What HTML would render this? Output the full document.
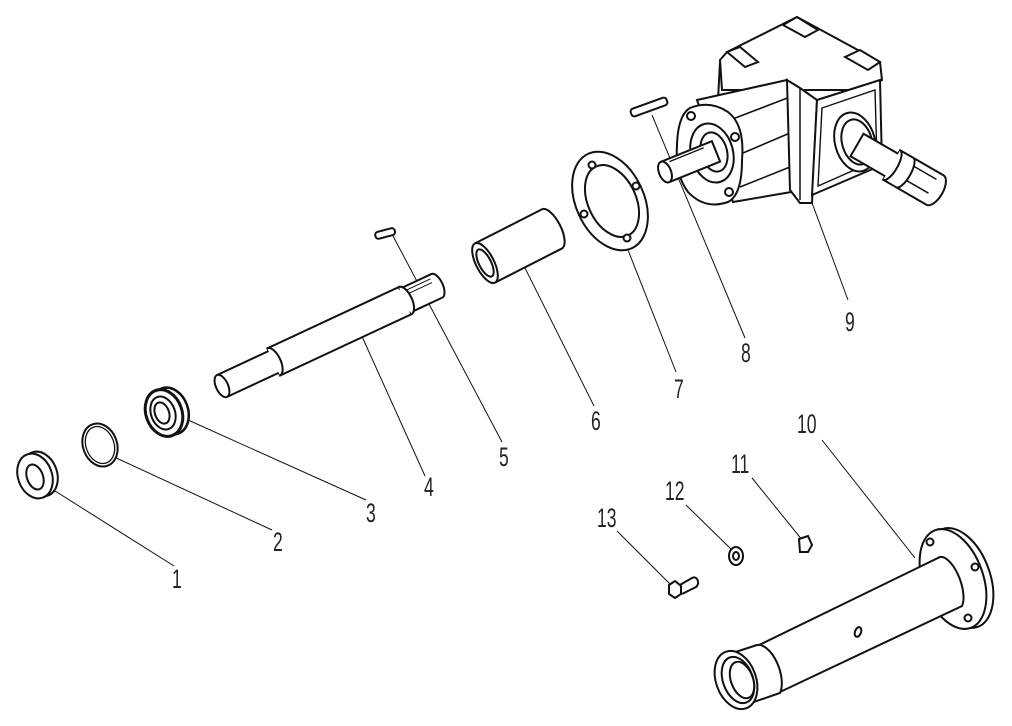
<!DOCTYPE html>
<html><head><meta charset="utf-8"><style>
html,body{margin:0;padding:0;background:#fff}
svg{display:block}
text{font-family:"Liberation Sans",sans-serif;font-size:27px;fill:#222}
</style></head><body>
<svg width="1012" height="726" viewBox="0 0 1012 726" xmlns="http://www.w3.org/2000/svg">
<g fill="none" stroke="#111" stroke-width="1">
<line x1="44" y1="484" x2="174" y2="566"/>
<line x1="112" y1="456" x2="272" y2="530"/>
<line x1="188" y1="420" x2="366" y2="500"/>
<line x1="360" y1="332" x2="425" y2="476"/>
<line x1="393" y1="236" x2="502" y2="442"/>
<line x1="525" y1="268" x2="594" y2="406"/>
<line x1="628" y1="250" x2="676" y2="372"/>
<line x1="652" y1="115" x2="745" y2="338"/>
<line x1="788" y1="138" x2="848" y2="300"/>
<line x1="915" y1="558" x2="822" y2="440"/>
<line x1="803" y1="541" x2="752" y2="478"/>
<line x1="733" y1="551" x2="686" y2="505"/>
<line x1="670" y1="584" x2="617" y2="531"/>
</g>
<g fill="#fff" stroke="#111" stroke-width="2">
<ellipse cx="40" cy="474" rx="17" ry="23" transform="rotate(-20 40 474)"/>
<ellipse cx="35" cy="476" rx="17" ry="23" transform="rotate(-20 35 476)"/>
<ellipse cx="35" cy="477" rx="8" ry="13" transform="rotate(-20 35 477)"/>
<ellipse cx="100" cy="445" rx="17" ry="22" transform="rotate(-20 100 445)"/>
<ellipse cx="100" cy="445" rx="14" ry="19" transform="rotate(-20 100 445)" stroke-width="1.3"/>
<ellipse cx="170" cy="411" rx="18" ry="24" transform="rotate(-20 170 411)" stroke-width="2.5"/>
<ellipse cx="164" cy="413" rx="18" ry="24" transform="rotate(-20 164 413)" stroke-width="3"/>
<ellipse cx="163" cy="413" rx="12" ry="17" transform="rotate(-20 163 413)"/>
<ellipse cx="162" cy="413" rx="7" ry="11" transform="rotate(-20 162 413)"/>
<g transform="translate(222,386) rotate(-25)">
<path d="M0,-12 L57,-12 L57,-15 L202,-15 L202,-13 L237,-13 A6,13 0 0 1 237,13 L202,13 L202,15 L57,15 L57,12 L0,12"/>
<path d="M57,-15 A7,15 0 0 1 57,15" />
<path d="M202,-15 A7,15 0 0 1 202,15" />
<line x1="208" y1="-9" x2="234" y2="-9" stroke-width="1"/>
<line x1="208" y1="-5" x2="234" y2="-5" stroke-width="1"/>
<ellipse cx="0" cy="0" rx="6" ry="12"/>
</g>
<rect x="375" y="230" width="20" height="7" rx="3" transform="rotate(-15 385 233)"/>
<g transform="translate(485,263) rotate(-27)">
<path d="M0,-22 L75,-22 A9,22 0 0 1 75,22 L0,22"/>
<ellipse cx="0" cy="0" rx="9" ry="22"/>
<ellipse cx="0" cy="0" rx="6" ry="15"/>
</g>
<ellipse cx="610" cy="201" rx="34" ry="52" transform="rotate(-25 610 201)"/>
<ellipse cx="612" cy="201" rx="24" ry="38" transform="rotate(-25 612 201)"/>
<circle cx="592" cy="165" r="3.5"/><circle cx="636" cy="186" r="3.5"/><circle cx="584" cy="214" r="3.5"/><circle cx="627" cy="238" r="3.5"/>
<rect x="630" y="103" width="38" height="8" rx="3" transform="rotate(-20 649 107)"/>
<path d="M720,60 L727,52 L797,17 L880,62 L882,80 L860,90 L790,90 L722,90 Z"/>
<path d="M727,52 L740,47 L758,62 L745,67 Z M783,25 L797,17 L818,30 L805,37 Z M845,57 L860,50 L880,62 L868,70 Z"/>
<line x1="720" y1="62" x2="718" y2="100"/>
<path d="M697,100 L787,80 L803,190 L733,202 Z"/>
<line x1="730" y1="120" x2="790" y2="97" stroke-width="1.6"/>
<line x1="743" y1="153" x2="797" y2="130" stroke-width="1.6"/>
<line x1="740" y1="187" x2="800" y2="163" stroke-width="1.6"/>
<path d="M787,80 L800,88 L817,100 L812,203 L800,203 L790,190 Z"/>
<line x1="800" y1="88" x2="800" y2="200" stroke-width="1.5"/>
<path d="M817,100 L880,80 L882,165 L812,195 Z"/>
<path d="M822,108 L875,90 L877,160 L818,186 Z" stroke-width="1.4"/>
<ellipse cx="855" cy="142" rx="20" ry="30" transform="rotate(-15 855 142)"/>
<ellipse cx="857" cy="142" rx="15" ry="23" transform="rotate(-15 857 142)"/>
<g transform="translate(857,145) rotate(30)">
<path d="M0,-13 L40,-13 L40,-17 L90,-17 A8,17 0 0 1 90,17 L40,17 L40,13 L0,13 Z"/>
<path d="M40,-17 A6,17 0 0 1 40,17"/>
<path d="M55,-17 A6,17 0 0 1 55,17"/>
<line x1="60" y1="-10" x2="86" y2="-10" stroke-width="1.5"/>
<line x1="60" y1="6" x2="86" y2="6" stroke-width="1.5"/>
</g>
<path d="M690,108 Q710,100 728,112 Q745,125 742,160 Q742,195 728,202 Q705,210 688,192 Q675,175 677,145 Q678,115 690,108 Z"/>
<ellipse cx="712" cy="153" rx="21" ry="30" transform="rotate(-15 712 153)"/>
<ellipse cx="714" cy="152" rx="13" ry="20" transform="rotate(-15 714 152)"/>
<circle cx="691" cy="116" r="4"/><circle cx="735" cy="137" r="4"/><circle cx="729" cy="192" r="4"/>
<g transform="translate(665,172) rotate(-22)">
<path d="M0,-11 L55,-11 L55,11 L0,11"/><ellipse cx="0" cy="0" rx="6" ry="11"/>
<line x1="8" y1="-8" x2="45" y2="-8" stroke-width="1.3"/>
</g>
<ellipse cx="960" cy="578" rx="30" ry="52" transform="rotate(-20 960 578)"/>
<ellipse cx="953" cy="579" rx="30" ry="52" transform="rotate(-20 953 579)"/>
<circle cx="930" cy="542" r="3.5"/><circle cx="975" cy="567" r="3.5"/><circle cx="968" cy="618" r="3.5"/>
<path d="M755,647 L940,557 A12,28 -20 0 1 962,606 L780,692 Z"/>
<path d="M720,657 L757,645 A14,28 -20 0 1 780,693 L745,705 Z"/>
<ellipse cx="736" cy="680" rx="20" ry="30" transform="rotate(-20 736 680)"/>
<ellipse cx="738" cy="680" rx="15" ry="24" transform="rotate(-20 738 680)"/>
<ellipse cx="742" cy="680" rx="11" ry="19" transform="rotate(-20 742 680)"/>
<ellipse cx="858" cy="632" rx="3" ry="5" transform="rotate(20 858 632)"/>
<path d="M799,539 L808,536 L812,545 L808,552 L800,552 Z"/>
<ellipse cx="736" cy="556" rx="7" ry="9"/><ellipse cx="736" cy="556" rx="3" ry="4"/>
<path d="M678,586 L692,578 A4,5 0 0 1 696,587 L682,594"/>
<path d="M669,585 L675,581 L681,586 L681,594 L675,598 L669,594 Z"/>
</g>
<g>
<text transform="translate(172,588) scale(0.65,1)">1</text>
<text transform="translate(273,551) scale(0.65,1)">2</text>
<text transform="translate(366,522) scale(0.65,1)">3</text>
<text transform="translate(424,496) scale(0.65,1)">4</text>
<text transform="translate(499,466) scale(0.65,1)">5</text>
<text transform="translate(591,430) scale(0.65,1)">6</text>
<text transform="translate(674,398) scale(0.65,1)">7</text>
<text transform="translate(741,362) scale(0.65,1)">8</text>
<text transform="translate(845,331) scale(0.65,1)">9</text>
<text transform="translate(797,433) scale(0.65,1)">10</text>
<text transform="translate(731,473) scale(0.65,1)">11</text>
<text transform="translate(665,500) scale(0.65,1)">12</text>
<text transform="translate(597,527) scale(0.65,1)">13</text>
</g>
</svg>
</body></html>
